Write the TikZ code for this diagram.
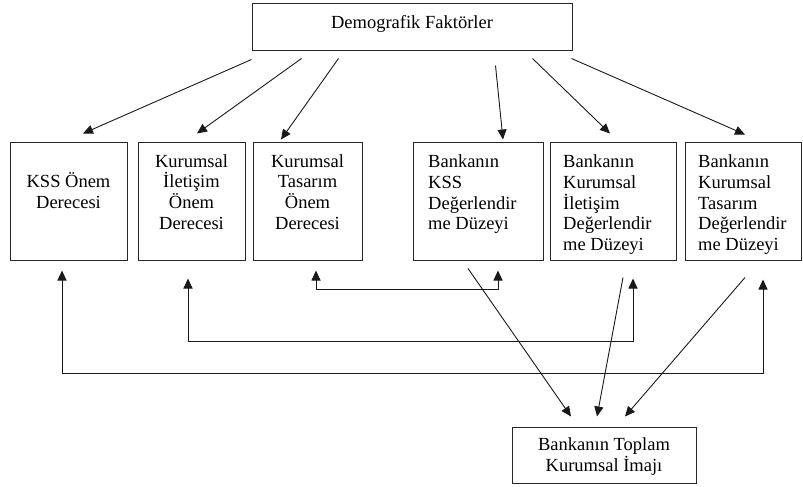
\documentclass[tikz,border=0pt]{standalone}
\usepackage{fontspec}
\setmainfont{Liberation Serif}
\usetikzlibrary{arrows.meta,calc}
\begin{document}
\begin{tikzpicture}[x=1pt,y=-1pt,
  box/.style={draw=black!85, line width=1pt, inner sep=0pt},
  lbl/.style={inner sep=0pt, font=\fontsize{18.5pt}{20.8pt}\selectfont},
  arr/.style={draw=black!90, line width=0.9pt, -{Triangle[length=10pt,width=9pt]}},
  darr/.style={draw=black!90, line width=0.9pt, {Triangle[length=10pt,width=9pt]}-{Triangle[length=10pt,width=9pt]}}]
\useasboundingbox (0,0) rectangle (803,487);

% boxes
\node[box, minimum width=320pt, minimum height=47pt] (top) at (412,27.5) {};
\node[box, minimum width=117pt, minimum height=118pt] (b1) at (68.5,201) {};
\node[box, minimum width=107pt, minimum height=118pt] (b2) at (191.5,201) {};
\node[box, minimum width=109pt, minimum height=118pt] (b3) at (307.5,201) {};
\node[box, minimum width=130pt, minimum height=118pt] (b4) at (478,201) {};
\node[box, minimum width=126pt, minimum height=118pt] (b5) at (613,201) {};
\node[box, minimum width=116pt, minimum height=118pt] (b6) at (743,201) {};
\node[box, minimum width=184pt, minimum height=56pt] (bot) at (604,455) {};

% texts (anchor base = baseline of the last line)
\node[lbl, anchor=base] (t0) at (412,29) {Demografik Faktörler};
\node[lbl, anchor=base, align=center] (t1) at (68.5,208.3) {KSS Önem\\Derecesi};
\node[lbl, anchor=base, align=center] (t2) at (191.5,229.4) {Kurumsal\\İletişim\\Önem\\Derecesi};
\node[lbl, anchor=base, align=center] (t3) at (307.5,229.4) {Kurumsal\\Tasarım\\Önem\\Derecesi};
\node[lbl, anchor=base west, align=left] (t4) at (428,229.9) {Bankanın\\KSS\\Değerlendir\\me Düzeyi};
\node[lbl, anchor=base west, align=left] (t5) at (563,250.7) {Bankanın\\Kurumsal\\İletişim\\Değerlendir\\me Düzeyi};
\node[lbl, anchor=base west, align=left] (t6) at (698,250.7) {Bankanın\\Kurumsal\\Tasarım\\Değerlendir\\me Düzeyi};
\node[lbl, anchor=base, align=center] (t7) at (604,471.3) {Bankanın Toplam\\Kurumsal İmajı};

% arrows from the top box
\draw[arr] ($(top.south west)+(0,8)$) -- ($(b1.north)+(14.5,-8)$);
\draw[arr] ($(top.south west)+(50,7)$) -- ($(b2.north)+(5.5,-8)$);
\draw[arr] ($(top.south west)+(87,7)$) -- ($(b3.north)+(-26.5,-2)$);
\draw[arr] ($(top.south west)+(244,14)$) -- ($(b4.north)+(25,-2)$);
\draw[arr] ($(top.south east)+(-40,7)$) -- ($(b5.north)+(-3,-8)$);
\draw[arr] ($(top.south east)+(-1,7)$) -- ($(b6.north)+(2,-7)$);

% elbow connectors between the rows
\draw[darr] ($(b1.south)+(-6.5,10)$) -- ++(0,103) -| ($(b6.south)+(20,19)$);
\draw[darr] ($(b2.south)+(-3.5,18)$) -- ++(0,63) -| ($(b5.south)+(20,18)$);
\draw[darr] ($(b3.south)+(8.5,10)$) -- ++(0,19) -| ($(b4.south)+(20,10)$);

% arrows into the bottom box
\draw[arr] ($(b4.south)+(-10,8)$) -- ($(bot.north)+(-33,-10)$);
\draw[arr] ($(b5.south)+(10,17)$) -- ($(bot.north)+(-7,-10)$);
\draw[arr] ($(b6.south)+(2,17)$) -- ($(bot.north)+(21,-10)$);
\end{tikzpicture}
\end{document}
